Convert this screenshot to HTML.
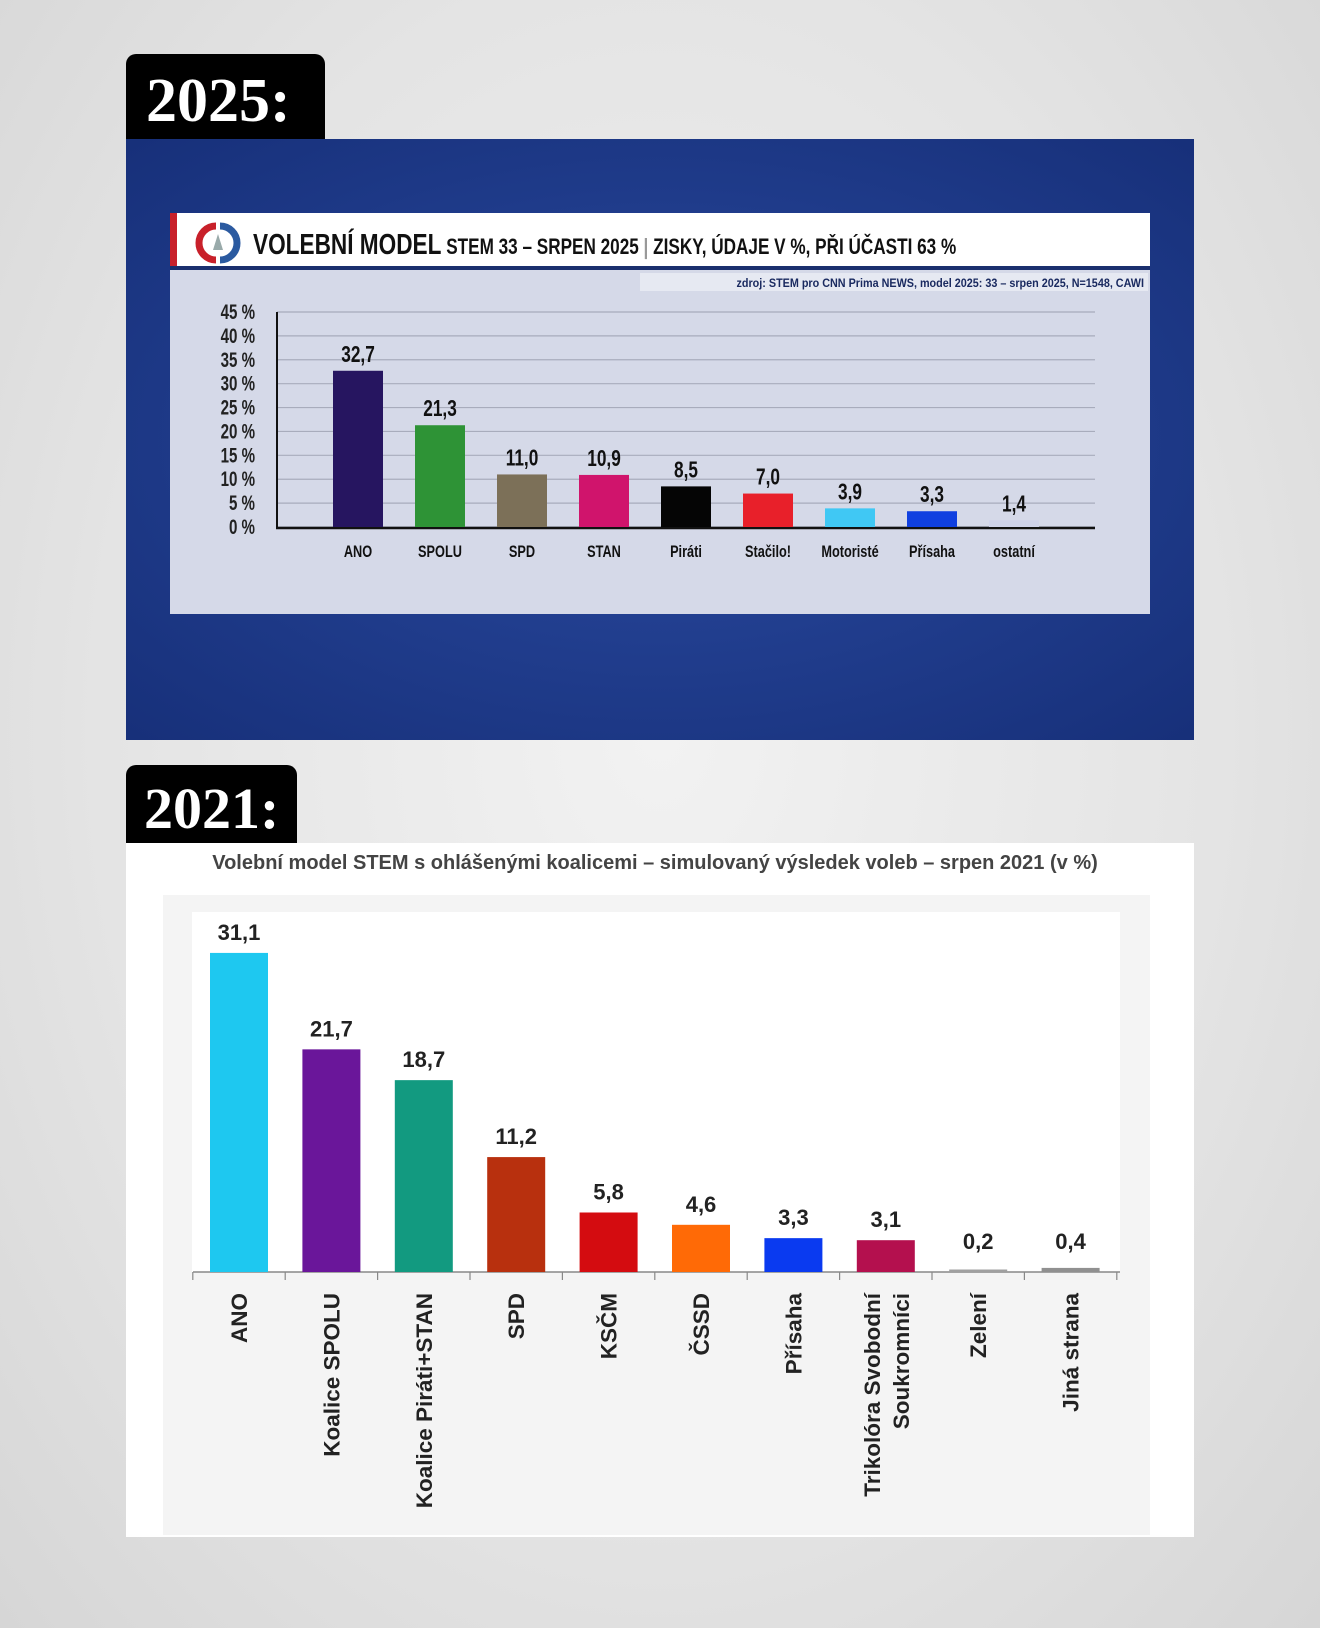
<!DOCTYPE html>
<html><head><meta charset="utf-8">
<style>
html,body{margin:0;padding:0;}
body{width:1320px;height:1628px;position:relative;overflow:hidden;background:radial-gradient(ellipse at 50% 45%,#f2f2f2 0%,#e4e4e4 60%,#d6d6d6 100%);font-family:"Liberation Sans",sans-serif;}
.lbl{position:absolute;background:#000;color:#fff;font-family:"Liberation Serif",serif;font-weight:bold;border-radius:10px 10px 0 0;box-sizing:border-box;}
svg{position:absolute;left:0;top:0;}
</style></head>
<body>
<div class="lbl" style="left:126px;top:54px;width:199px;height:86px;font-size:62px;padding:12px 0 0 20px;">2025:</div>
<div class="lbl" style="left:126px;top:765px;width:171px;height:79px;font-size:58px;padding:10px 0 0 18px;">2021:</div>
<svg width="1320" height="1628" id="svg">
<defs>
<radialGradient id="bg1" cx="0.5" cy="0.5" r="0.7"><stop offset="0" stop-color="#2a4aa0"/><stop offset="1" stop-color="#17307a"/></radialGradient>
</defs>
<rect x="126" y="139" width="1068" height="601" fill="url(#bg1)"/>
<rect x="170" y="213" width="980" height="56" fill="#fff"/>
<rect x="170" y="213" width="7" height="56" fill="#c8202a"/>
<rect x="170" y="266" width="980" height="4" fill="#1a2f6e"/>
<g>
<path d="M216,226 A17,17 0 0 0 216,260" stroke="#c8202a" stroke-width="7" fill="none"/>
<path d="M220,226 A17,17 0 0 1 220,260" stroke="#2b5aa0" stroke-width="7" fill="none"/>
<polygon points="218,234 213,250 223,250" fill="#9aa"/>
</g>
<text transform="translate(253,254) scale(0.78,1)" font-weight="bold" fill="#111"><tspan font-size="29">VOLEBNÍ MODEL</tspan><tspan font-size="22"> STEM 33 – SRPEN 2025 </tspan><tspan font-size="22" fill="#999">|</tspan><tspan font-size="22"> ZISKY, ÚDAJE V %, PŘI ÚČASTI 63 %</tspan></text>
<rect x="170" y="270" width="980" height="344" fill="#d5d9e8"/>
<rect x="640" y="273" width="508" height="18" fill="#e6e9f2"/>
<text transform="translate(1144,287) scale(0.9,1)" text-anchor="end" font-weight="bold" font-size="12" fill="#1a2a60">zdroj: STEM pro CNN Prima NEWS, model 2025: 33 – srpen 2025, N=1548, CAWI</text>
<g id="c1"></g>
<rect x="126" y="843" width="1068" height="694" fill="#fff"/>
<text x="655" y="869" text-anchor="middle" font-weight="bold" font-size="20" fill="#444">Volební model STEM s ohlášenými koalicemi – simulovaný výsledek voleb – srpen 2021 (v %)</text>
<rect x="163" y="895" width="987" height="640" fill="#f4f4f4"/>
<rect x="192" y="912" width="928" height="360" fill="#fff"/>
<g id="c2"></g>
</svg>
<script>
const cats25=["ANO","SPOLU","SPD","STAN","Piráti","Stačilo!","Motoristé","Přísaha","ostatní"];
const vals25=[32.7,21.3,11.0,10.9,8.5,7.0,3.9,3.3,1.4];
const cols25=["#261560","#2e9336","#7c7058","#d0146c","#050505","#e8202a","#40c8f4","#1040e0","#cfd3ea"];
const ticks25=[0,5,10,15,20,25,30,35,40,45];
const cats21=["ANO","Koalice SPOLU","Koalice Piráti+STAN","SPD","KSČM","ČSSD","Přísaha","Trikolóra Svobodní|Soukromníci","Zelení","Jiná strana"];
const vals21=[31.1,21.7,18.7,11.2,5.8,4.6,3.3,3.1,0.2,0.4];
const cols21=["#1ec8f0","#6a169a","#129a80","#b8300e","#d40c10","#ff6a06","#0a3af0","#b4104e","#a0a0a0","#909090"];
const NS="http://www.w3.org/2000/svg";
function mk(p,t,a,txt){const e=document.createElementNS(NS,t);for(const k in a)e.setAttribute(k,a[k]);if(txt!==undefined)e.textContent=txt;p.appendChild(e);return e;}
const fmt=v=>v.toFixed(1).replace('.',',');
const g1=document.getElementById('c1');
const y1=v=>527-v*(215/45);
const x1=i=>358+i*82;
ticks25.forEach(t=>{
 const l=mk(g1,'line',{x1:277,x2:1095,y1:y1(t),y2:y1(t),stroke:'#a8acbc','stroke-width':1.2});
 
 
 const tx=mk(g1,'text',{transform:`translate(255,${y1(t)+7}) scale(0.72,1)`,'text-anchor':'end','font-weight':'bold','font-size':21,fill:'#222'},t+' %');
 
 
});
const ax=mk(g1,'line',{x1:277,x2:277,y1:312,y2:528,stroke:'#111','stroke-width':2});


const bx=mk(g1,'line',{x1:276,x2:1095,y1:528,y2:528,stroke:'#111','stroke-width':2.5});


cats25.forEach((c,i)=>{
 const r=mk(g1,'rect',{x:x1(i)-25,y:y1(vals25[i]),width:50,height:527-y1(vals25[i]),fill:cols25[i]});
 
 
 const v=mk(g1,'text',{transform:`translate(${x1(i)},${y1(vals25[i])-9}) scale(0.75,1)`,'text-anchor':'middle','font-weight':'bold','font-size':23,fill:'#111'},fmt(vals25[i]));
 
 
 const l=mk(g1,'text',{transform:`translate(${x1(i)},557) scale(0.75,1)`,'text-anchor':'middle','font-weight':'bold','font-size':17,fill:'#111'},c);
 
 
});
const g2=document.getElementById('c2');
const y2=v=>1272-v*10.26;
const x2=i=>239+i*92.4;
const bl=mk(g2,'line',{x1:193,x2:1120,y1:1272,y2:1272,stroke:'#888','stroke-width':1.5});


for(let i=0;i<=cats21.length;i++){
 const t=mk(g2,'line',{x1:x2(i)-46.2,x2:x2(i)-46.2,y1:1272,y2:1280,stroke:'#888','stroke-width':1.2});
 
 
}
cats21.forEach((c,i)=>{
 const h=Math.max(1272-y2(vals21[i]),2.5);
 const r=mk(g2,'rect',{x:x2(i)-29,y:1272-h,width:58,height:h,fill:cols21[i]});
 
 
 const v=mk(g2,'text',{x:x2(i),y:Math.min(y2(vals21[i]),1262)-13,'text-anchor':'middle','font-weight':'bold','font-size':22,fill:'#222'},fmt(vals21[i]));
 
 
 const lines=c.split('|');
 const gl=mk(g2,'text',{transform:`translate(${x2(i)},1293) rotate(-90)`,'text-anchor':'end','font-weight':'bold','font-size':22.5,fill:'#222'});
 
 
 lines.forEach((ln,k)=>{mk(gl,'tspan',{x:0,y:(lines.length===1?8:(k===0?-6:23))},ln);});
});
</script>
</body></html>
